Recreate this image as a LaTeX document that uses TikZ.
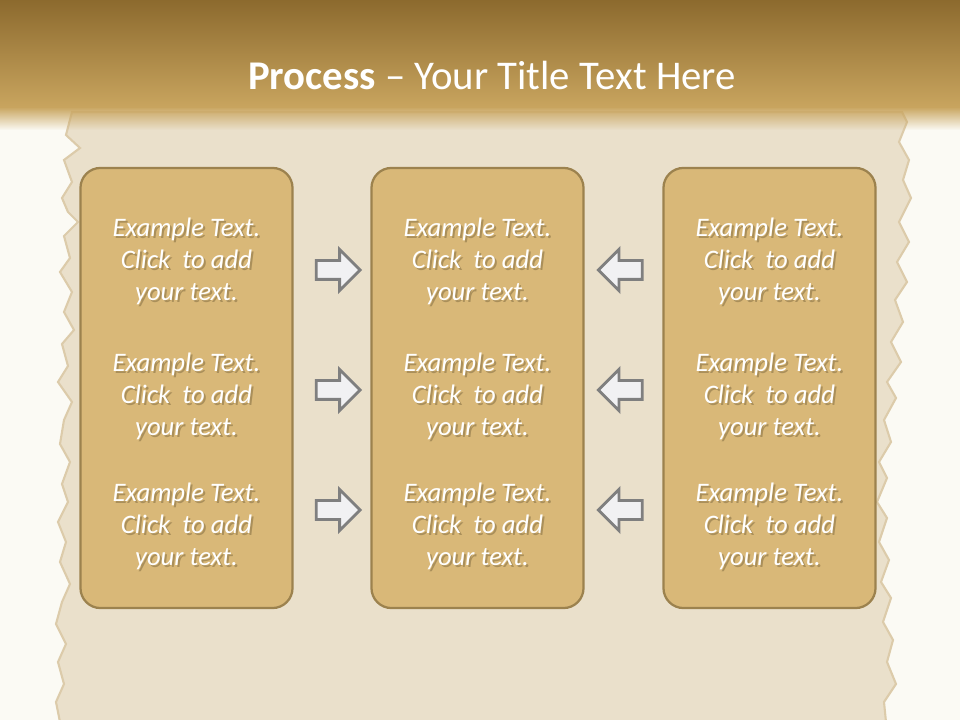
\documentclass[tikz,border=0pt]{standalone}
\usepackage{fontspec}
\setmainfont{Carlito}
\usetikzlibrary{shapes.arrows,fadings,positioning}

\definecolor{bgcream}{HTML}{FBFAF4}
\definecolor{banddark}{HTML}{8C6A2E}
\definecolor{bandlight}{HTML}{C9A55F}
\definecolor{paper}{HTML}{EAE0CB}
\definecolor{paperedge}{HTML}{DCCBAA}
\definecolor{boxfill}{HTML}{D9B878}
\definecolor{boxline}{HTML}{9C824E}
\definecolor{arrowfill}{HTML}{F1F1F3}
\definecolor{arrowline}{HTML}{7F7F7F}

\tikzset{
    column/.style={draw=boxline, line width=1.6pt, fill=boxfill, rounded corners=0.5cm,
        minimum width=5.3cm, minimum height=11cm},
    cell text/.style={text=white, align=center, inner sep=0pt,
        font=\fontsize{19}{22.7}\selectfont\itshape},
    cell shadow/.style={cell text, text=boxline!80!black, opacity=0.5},
    block arrow/.style={single arrow, draw=arrowline, line width=2pt, fill=arrowfill,
        inner xsep=0pt, inner ysep=0.2cm, minimum height=1.1cm,
        single arrow head extend=0.28cm, single arrow tip angle=90}
}

\newcommand{\cellcontent}{Example Text.\\Click~~to add\\your text.}

\begin{document}
\begin{tikzpicture}[x=0.025cm, y=-0.025cm]

\useasboundingbox (0,0) rectangle (960,720);
\fill[bgcream] (0,0) rectangle (960,720);

% Parchment sheet
\draw[fill=paper, draw=paperedge, line width=1.5pt]
    (72,112) -- (66,135) -- (80,148) -- (64,160) -- (72,182) -- (62,198) -- (68,212)
    -- (78,222) -- (64,236) -- (70,258) -- (60,272) -- (72,292) -- (64,312) -- (74,330)
    -- (62,344) -- (68,366) -- (58,382) -- (72,402) -- (64,420) -- (60,444) -- (70,462)
    -- (62,484) -- (68,502) -- (58,522) -- (66,542) -- (60,562) -- (70,584) -- (62,602)
    -- (56,624) -- (66,644) -- (58,662) -- (64,684) -- (56,702) -- (60,722)
    -- (886,722) -- (884,702) -- (896,684) -- (887,662) -- (893,640) -- (883,622)
    -- (891,598) -- (881,582) -- (889,560) -- (879,542) -- (887,518) -- (877,502)
    -- (887,478) -- (879,462) -- (891,442) -- (884,420) -- (896,398) -- (887,382)
    -- (901,362) -- (891,342) -- (903,322) -- (895,300) -- (907,282) -- (897,262)
    -- (909,242) -- (899,222) -- (911,198) -- (903,180) -- (909,160) -- (899,142)
    -- (907,122) -- (902,112) -- cycle;

% Title band
\fill[top color=banddark, bottom color=bandlight] (0,0) rectangle (960,108);
\fill[bandlight, path fading=south] (0,107) rectangle (960,130);
\node[text=white, font=\fontsize{29}{34}\selectfont] (title) at (492,75)
    {\textbf{Process} -- Your Title Text Here};

% Columns
\node[column] (leftcol) at (186.5,388) {};
\node[column] (midcol) at (477.5,388) {};
\node[column] (rightcol) at (769.5,388) {};

% Texts
\foreach \cx/\col in {186.5/left, 477.5/mid, 769.5/right}{
    \foreach \cy/\row in {261/1, 396/2, 526/3}{
        \node[cell shadow] at (\cx+2,\cy+2) {\cellcontent};
        \node[cell text] (\col text\row) at (\cx,\cy) {\cellcontent};
    }
}

% Arrows towards the middle
\node[block arrow] (inarrow1) at (333.5,270) {};
\node[block arrow] (inarrow2) at (333.5,390) {};
\node[block arrow] (inarrow3) at (333.5,510) {};
\node[block arrow, shape border rotate=180] (backarrow1) at (625,270) {};
\node[block arrow, shape border rotate=180] (backarrow2) at (625,390) {};
\node[block arrow, shape border rotate=180] (backarrow3) at (625,510) {};

\end{tikzpicture}
\end{document}
